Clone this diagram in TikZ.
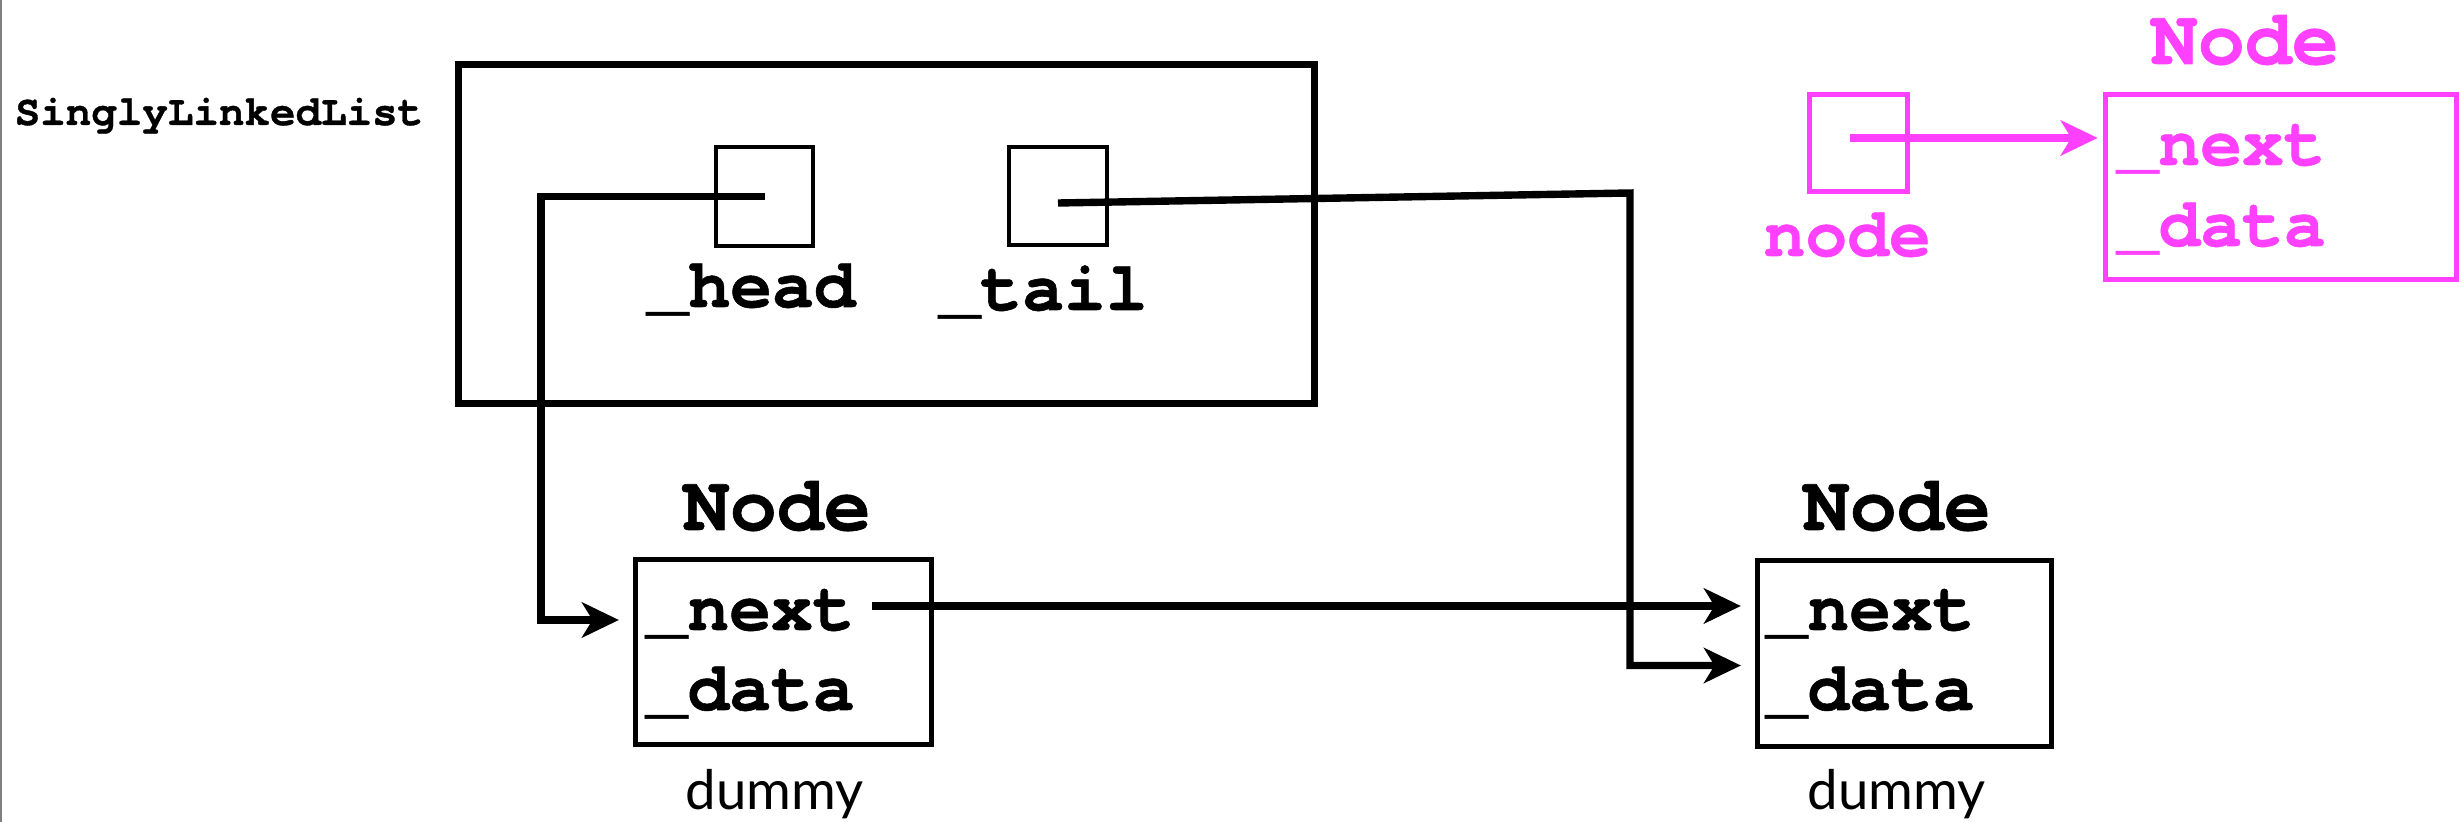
\documentclass[tikz,border=0pt]{standalone}
\usepackage{fontspec}
\setmonofont{texgyrecursor}[Extension=.otf, UprightFont=*-regular, BoldFont=*-bold, BoldFeatures={FakeBold=0.8}]
\setsansfont{Lato}
\usetikzlibrary{arrows.meta}
\usetikzlibrary{calc}
\definecolor{pointerpink}{RGB}{255,64,255}
\tikzset{
	slot/.style={draw, inner sep=0pt, line width=1.1pt},
	objbox/.style={draw, inner sep=0pt, line width=1.4pt},
	code/.style={anchor=base west, inner sep=0pt, font=\ttfamily\bfseries\fontsize{19.8}{22.8}\selectfont},
	classname/.style={anchor=base west, inner sep=0pt, font=\ttfamily\bfseries\fontsize{22.3}{26}\selectfont},
	caption/.style={anchor=base west, inner sep=0pt, font=\sffamily\fontsize{15.5}{18}\selectfont},
	ptr/.style={-{Stealth[length=10.5pt, width=10pt, inset=3pt]}, line width=2.1pt, shorten >=4pt},
}

\begin{document}
\begin{tikzpicture}[x=0.01cm, y=-0.01cm]
	\useasboundingbox (0,0) rectangle (2459,822);
	\draw [gray, line width=0.45pt] (1,0) -- (1,822);

	% the list object
	\node [objbox, line width=2pt, minimum width=8.56cm, minimum height=3.39cm] (list) at (886.5,234) {};
	\node [code, font=\ttfamily\bfseries\fontsize{12.1}{14}\selectfont] (listname) at (14,125) {SinglyLinkedList};
	\node [slot, minimum width=0.97cm, minimum height=0.99cm] (headslot) at (764.5,196.5) {};
	\node [slot, minimum width=0.98cm, minimum height=0.98cm] (tailslot) at (1058,196) {};
	\node [code] (headname) at (646,307) {\_head};
	\node [code] (tailname) at (938,310) {\_tail};

	% the two dummy nodes
	\node [objbox, minimum width=2.96cm, minimum height=1.85cm] (dummyA) at (783.5,652) {};
	\node [objbox, minimum width=2.94cm, minimum height=1.86cm] (dummyB) at (1904.5,653.5) {};
	\node [classname] (dummyAtitle) at (682,530) {Node};
	\node [classname] (dummyBtitle) at (1802,530) {Node};
	\node [code] (dummyAnext) at (645,630) {\_next};
	\node [code] (dummyAdata) at (645,710) {\_data};
	\node [code] (dummyBnext) at (1765,630) {\_next};
	\node [code] (dummyBdata) at (1765,710) {\_data};
	\node [caption] (dummyAcap) at (685,810) {dummy};
	\node [caption] (dummyBcap) at (1807,810) {dummy};

	\coordinate (headbend) at (541,620);
	\coordinate (tailbend) at (1630,193);
	\draw [ptr] (headslot.center) -| (headbend) -- (headbend -| dummyA.west);
	\draw [ptr] ([yshift=-0.07cm]tailslot.center) -- (tailbend) |- ([yshift=-0.12cm]dummyB.west);
	\draw [ptr] ([xshift=0.17cm, yshift=0.24cm]dummyAnext.base east) coordinate (nextstart) -- (nextstart -| dummyB.west);

	% legend
	\begin{scope}[pointerpink]
	\node [slot, line width=1.4pt, minimum width=0.98cm, minimum height=0.97cm] (nodevar) at (1858.5,143) {};
	\node [objbox, minimum width=3.51cm, minimum height=1.85cm] (nodeobj) at (2281,187) {};
	\node [code] (nodevarname) at (1763,256) {node};
	\node [classname] (nodeobjtitle) at (2150,64) {Node};
	\node [code] (nodeobjnext) at (2116,165) {\_next};
	\node [code] (nodeobjdata) at (2116,246) {\_data};
	\draw [ptr, shorten >=1.5pt] ([xshift=-0.09cm, yshift=0.05cm]nodevar.center) -- ([yshift=0.05cm]nodevar.center -| nodeobj.west);
	\end{scope}
\end{tikzpicture}
\end{document}
